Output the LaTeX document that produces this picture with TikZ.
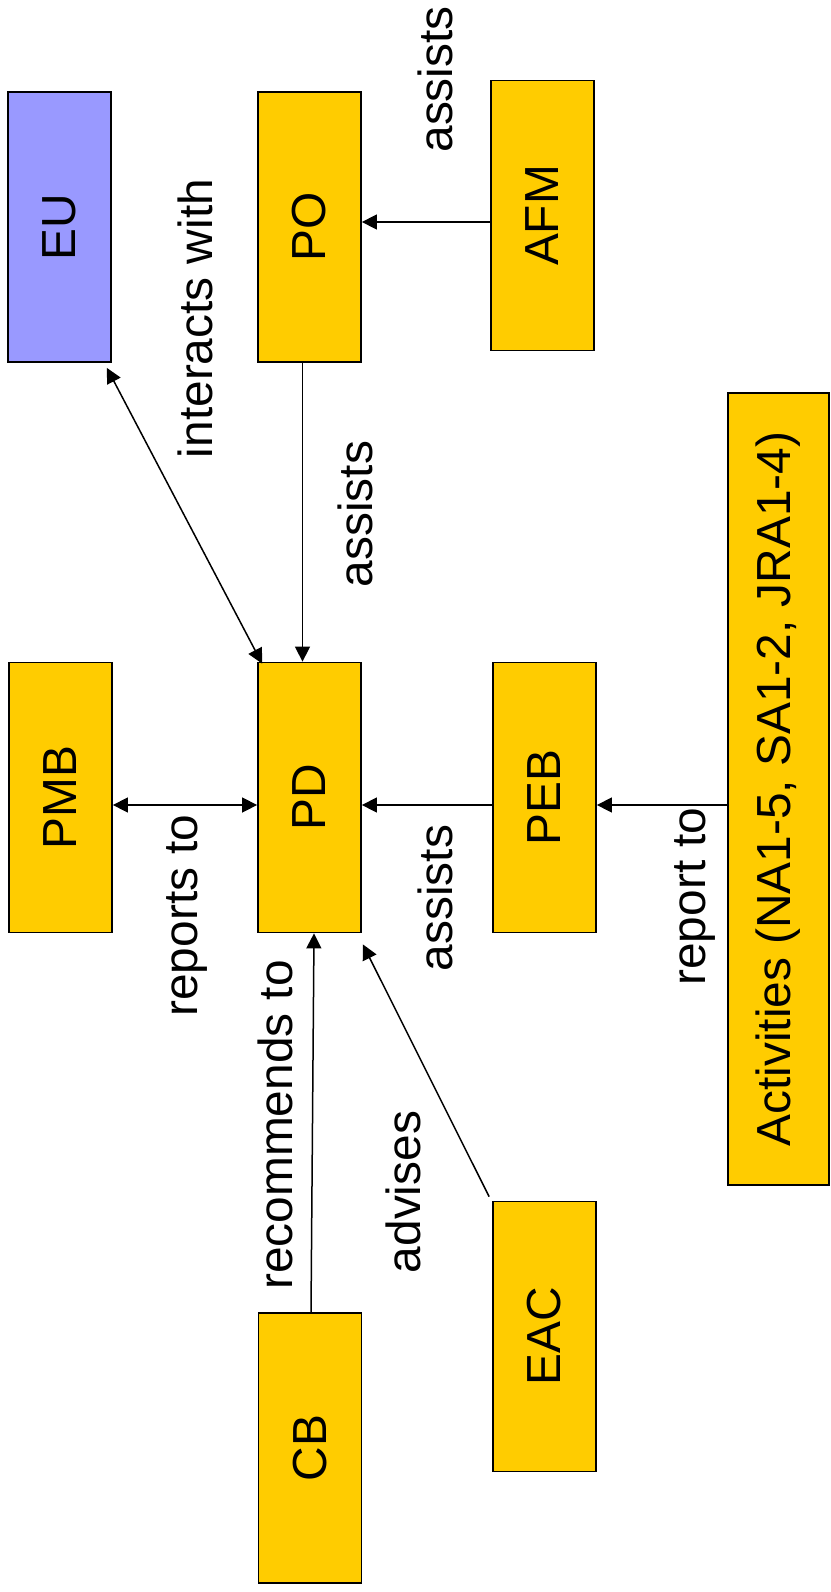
\documentclass[tikz,border=0pt]{standalone}
\usepackage{fontspec}
\setmainfont{Liberation Sans}
\usetikzlibrary{arrows.meta,calc}
\definecolor{boxyellow}{HTML}{FFCC00}
\definecolor{eublue}{HTML}{9999FF}
\begin{document}
\begin{tikzpicture}[x=1bp,y=-1bp,
  box/.style={draw=black, line width=1.8bp, fill=boxyellow, minimum width=103bp, minimum height=270bp, inner sep=0pt, font=\fontsize{48}{58}\selectfont},
  lbl/.style={rotate=90, anchor=base, inner sep=0pt, font=\fontsize{48}{58}\selectfont},
  arr/.style={line width=1.5bp, -{Triangle[length=15bp,width=15bp]}},
  darr/.style={line width=1.5bp, {Triangle[length=15bp,width=15bp]}-{Triangle[length=15bp,width=15bp]}}]
\useasboundingbox (0,0) rectangle (830,1592);
% boxes
\node[box, fill=eublue] (EU) at (59.5,227) {\rotatebox{90}{EU}};
\node[box] (PO) at (309.5,227) {\rotatebox{90}{PO}};
\node[box] (AFM) at (542.5,215.5) {\rotatebox{90}{AFM}};
\node[box] (PMB) at (60.5,797.5) {\rotatebox{90}{PMB}};
\node[box] (PD) at (309.5,797.5) {\rotatebox{90}{PD}};
\node[box] (PEB) at (544.5,797.5) {\rotatebox{90}{PEB}};
\node[box, minimum width=101bp, minimum height=792bp] (Act) at (778.5,789) {\rotatebox{90}{Activities (NA1-5, SA1-2, JRA1-4)}};
\node[box] (CB) at (310,1448) {\rotatebox{90}{CB}};
\node[box] (EAC) at (544.5,1336.5) {\rotatebox{90}{EAC}};
% connectors
\draw[arr] ([yshift=-6.5bp]AFM.west) -- ([yshift=-6.5bp]AFM.west -| PO.east);
\draw[arr] ([xshift=-7bp]PO.south) -- ([xshift=-7bp]PD.north);
\draw[darr] ([xshift=-5bp,yshift=-5bp]EU.south east) -- ([xshift=5bp,yshift=-2bp]PD.north west);
\draw[darr] ([yshift=-7.5bp]PMB.east) -- ([yshift=-7.5bp]PD.west);
\draw[arr] ([yshift=-7.5bp]PEB.west) -- ([yshift=-7.5bp]PD.east);
\draw[arr] ([yshift=-7.5bp]PEB.east -| Act.west) -- ([yshift=-7.5bp]PEB.east);
\draw[arr] ([xshift=1bp]CB.north) -- ([xshift=4.5bp]PD.south);
\draw[arr] ([xshift=-3bp,yshift=4bp]EAC.north west) -- ([xshift=1bp,yshift=-11bp]PD.south east);
% labels
\node[lbl] (l1) at (452,79.5) {assists};
\node[lbl] (l2) at (212,318.5) {interacts with};
\node[lbl] (l3) at (372,514) {assists};
\node[lbl] (l4) at (197,915.5) {reports to};
\node[lbl] (l5) at (452,898) {assists};
\node[lbl] (l6) at (705,896.5) {report to};
\node[lbl] (l7) at (292,1125) {recommends to};
\node[lbl] (l8) at (420,1192) {advises};
\end{tikzpicture}
\end{document}
